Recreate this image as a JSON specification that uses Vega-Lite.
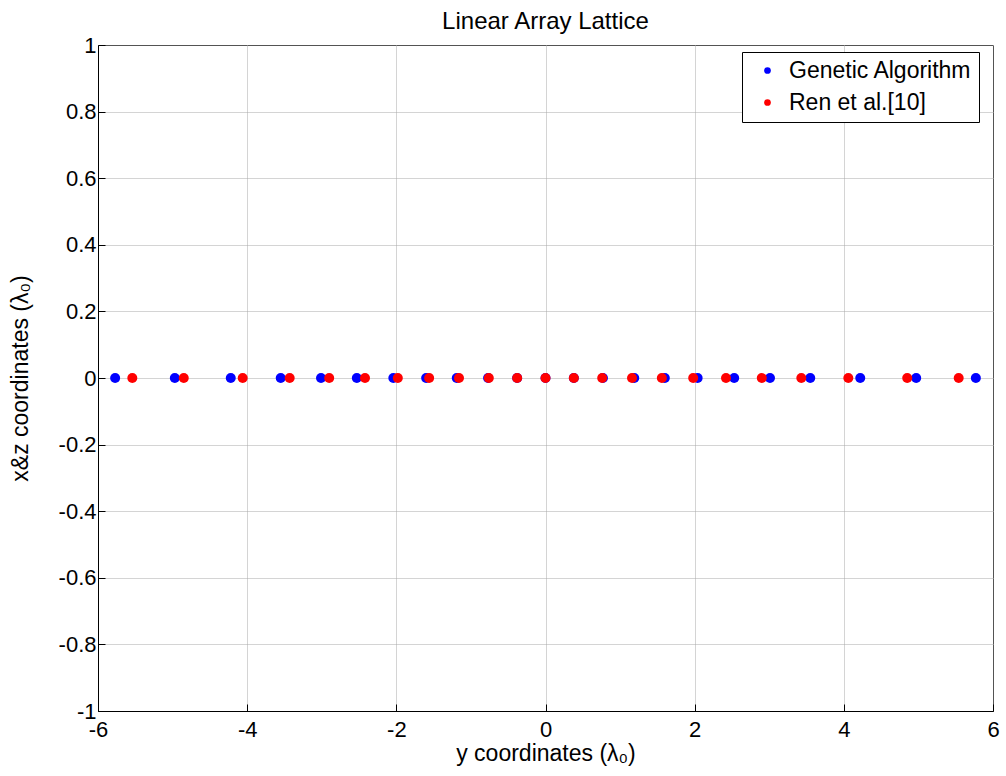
{
  "$schema": "https://vega.github.io/schema/vega-lite/v6.json",
  "autosize": {"type": "none"},
  "padding": {"left": 98, "top": 45, "right": 13, "bottom": 65},
  "width": 895,
  "height": 666,
  "background": "white",
  "title": {"text": "Linear Array Lattice", "font": "Liberation Sans", "fontSize": 24, "fontWeight": "normal", "color": "black", "offset": 0},
  "config": {
    "view": {"stroke": "black", "strokeWidth": 1},
    "font": "Liberation Sans"
  },
  "data": {"values": [
    {"y": -5.77, "z": 0, "series": "Genetic Algorithm"},
    {"y": -4.97, "z": 0, "series": "Genetic Algorithm"},
    {"y": -4.22, "z": 0, "series": "Genetic Algorithm"},
    {"y": -3.55, "z": 0, "series": "Genetic Algorithm"},
    {"y": -3.01, "z": 0, "series": "Genetic Algorithm"},
    {"y": -2.53, "z": 0, "series": "Genetic Algorithm"},
    {"y": -2.04, "z": 0, "series": "Genetic Algorithm"},
    {"y": -1.6, "z": 0, "series": "Genetic Algorithm"},
    {"y": -1.19, "z": 0, "series": "Genetic Algorithm"},
    {"y": -0.77, "z": 0, "series": "Genetic Algorithm"},
    {"y": -0.38, "z": 0, "series": "Genetic Algorithm"},
    {"y": 0, "z": 0, "series": "Genetic Algorithm"},
    {"y": 0.38, "z": 0, "series": "Genetic Algorithm"},
    {"y": 0.77, "z": 0, "series": "Genetic Algorithm"},
    {"y": 1.19, "z": 0, "series": "Genetic Algorithm"},
    {"y": 1.6, "z": 0, "series": "Genetic Algorithm"},
    {"y": 2.04, "z": 0, "series": "Genetic Algorithm"},
    {"y": 2.53, "z": 0, "series": "Genetic Algorithm"},
    {"y": 3.01, "z": 0, "series": "Genetic Algorithm"},
    {"y": 3.55, "z": 0, "series": "Genetic Algorithm"},
    {"y": 4.22, "z": 0, "series": "Genetic Algorithm"},
    {"y": 4.97, "z": 0, "series": "Genetic Algorithm"},
    {"y": 5.77, "z": 0, "series": "Genetic Algorithm"},
    {"y": -5.54, "z": 0, "series": "Ren et al.[10]"},
    {"y": -4.85, "z": 0, "series": "Ren et al.[10]"},
    {"y": -4.06, "z": 0, "series": "Ren et al.[10]"},
    {"y": -3.43, "z": 0, "series": "Ren et al.[10]"},
    {"y": -2.9, "z": 0, "series": "Ren et al.[10]"},
    {"y": -2.42, "z": 0, "series": "Ren et al.[10]"},
    {"y": -1.98, "z": 0, "series": "Ren et al.[10]"},
    {"y": -1.56, "z": 0, "series": "Ren et al.[10]"},
    {"y": -1.16, "z": 0, "series": "Ren et al.[10]"},
    {"y": -0.76, "z": 0, "series": "Ren et al.[10]"},
    {"y": -0.38, "z": 0, "series": "Ren et al.[10]"},
    {"y": 0, "z": 0, "series": "Ren et al.[10]"},
    {"y": 0.38, "z": 0, "series": "Ren et al.[10]"},
    {"y": 0.76, "z": 0, "series": "Ren et al.[10]"},
    {"y": 1.16, "z": 0, "series": "Ren et al.[10]"},
    {"y": 1.56, "z": 0, "series": "Ren et al.[10]"},
    {"y": 1.98, "z": 0, "series": "Ren et al.[10]"},
    {"y": 2.42, "z": 0, "series": "Ren et al.[10]"},
    {"y": 2.9, "z": 0, "series": "Ren et al.[10]"},
    {"y": 3.43, "z": 0, "series": "Ren et al.[10]"},
    {"y": 4.06, "z": 0, "series": "Ren et al.[10]"},
    {"y": 4.85, "z": 0, "series": "Ren et al.[10]"},
    {"y": 5.54, "z": 0, "series": "Ren et al.[10]"}
  ]},
  "mark": {"type": "circle", "size": 100, "opacity": 1},
  "encoding": {
    "x": {
      "field": "y", "type": "quantitative",
      "scale": {"domain": [-6, 6], "nice": false, "zero": false},
      "axis": {
        "title": "y coordinates (λ₀)",
        "titleFont": "Liberation Sans", "titleFontSize": 23, "titleFontWeight": "normal", "titleColor": "black", "titlePadding": 2,
        "values": [-6, -4, -2, 0, 2, 4, 6],
        "labelExpr": "'' + datum.value",
        "labelFont": "Liberation Sans", "labelFontSize": 22, "labelColor": "black", "labelPadding": 15, "labelFlush": false,
        "tickSize": -7, "tickColor": "black", "domainColor": "black",
        "grid": true, "gridColor": "#a8a8a8", "gridDash": [1, 1], "gridWidth": 1
      }
    },
    "y": {
      "field": "z", "type": "quantitative",
      "scale": {"domain": [-1, 1], "nice": false, "zero": false},
      "axis": {
        "title": "x&z coordinates (λ₀)",
        "titleFont": "Liberation Sans", "titleFontSize": 23, "titleFontWeight": "normal", "titleColor": "black", "titlePadding": 26,
        "values": [-1, -0.8, -0.6, -0.4, -0.2, 0, 0.2, 0.4, 0.6, 0.8, 1],
        "labelExpr": "'' + datum.value",
        "labelFont": "Liberation Sans", "labelFontSize": 22, "labelColor": "black", "labelPadding": 9, "labelFlush": false,
        "tickSize": -7, "tickColor": "black", "domainColor": "black",
        "grid": true, "gridColor": "#a8a8a8", "gridDash": [1, 1], "gridWidth": 1
      }
    },
    "color": {
      "field": "series", "type": "nominal",
      "scale": {"domain": ["Genetic Algorithm", "Ren et al.[10]"], "range": ["#0000ff", "#ff0000"]},
      "legend": {
        "title": null, "orient": "none", "legendX": 644, "legendY": 7,
        "direction": "vertical",
        "strokeColor": "black", "fillColor": "white", "padding": 7,
        "labelFont": "Liberation Sans", "labelFontSize": 23, "labelColor": "black", "labelLimit": 400,
        "symbolType": "circle", "symbolSize": 45, "symbolStrokeWidth": 0, "symbolOffset": 7,
        "rowPadding": 8, "labelOffset": 10, "offset": 0
      }
    },
    "order": {"field": "series", "sort": "ascending"}
  }
}
